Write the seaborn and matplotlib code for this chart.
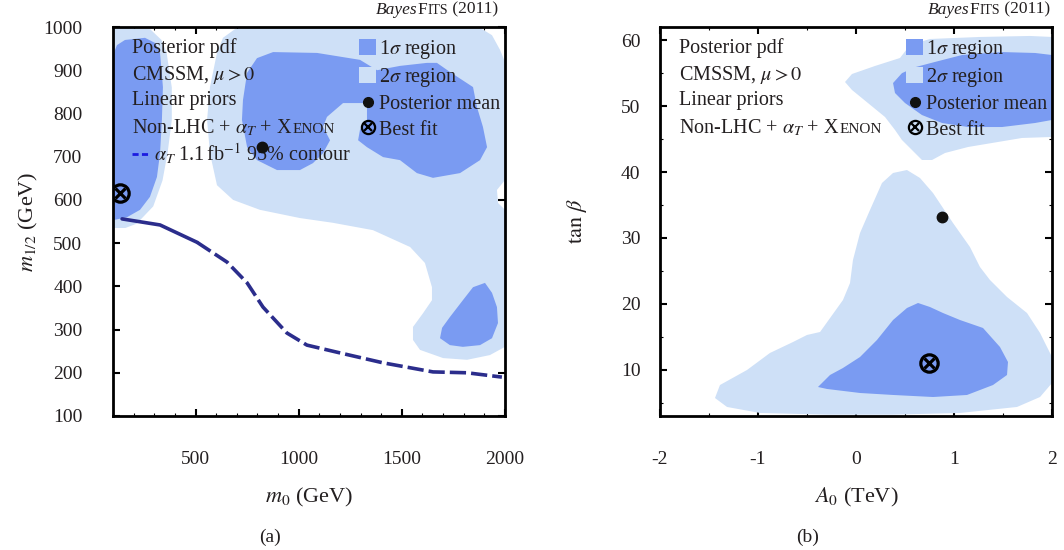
import matplotlib
matplotlib.use("Agg")
import matplotlib.pyplot as plt
import seaborn as sns
import numpy as np
import pandas as pd
from matplotlib.offsetbox import TextArea, HPacker, AnnotationBbox, DrawingArea
from matplotlib.lines import Line2D
from matplotlib.patches import Patch
from matplotlib.legend_handler import HandlerTuple
from matplotlib.ticker import MultipleLocator

# ---------------- data: panel (a)  (m0, m1/2) in GeV ----------------
a_2sig1_m0 = [100, 145, 280, 335, 360, 385, 385, 365, 340, 295, 215, 160, 100]
a_2sig1_m12 = [995, 998, 995, 970, 940, 860, 785, 710, 645, 585, 545, 535, 535]

a_2sig2_m0 = [604, 633, 691, 764, 1879, 1937, 1976, 2000, 2000, 1961, 1966, 2000, 2000,
              1927, 1816, 1700, 1588, 1554, 1554, 1603, 1646, 1646, 1612, 1540, 1360,
              1166, 1006, 812, 682, 604, 570, 556, 570]
a_2sig2_m12 = [940, 975, 995, 998, 998, 981, 947, 919, 646, 623, 593, 577, 260,
               241, 230, 234, 253, 276, 306, 338, 368, 398, 454, 491, 530,
               547, 558, 577, 600, 634, 708, 785, 861]

a_1sig1_m0 = [100, 119, 158, 255, 304, 328, 342, 337, 328, 313, 279, 231, 168, 100]
a_1sig1_m12 = [935, 958, 970, 975, 963, 940, 861, 785, 708, 653, 607, 577, 560, 553]

a_1sig2_m0 = [730, 750, 798, 876, 1089, 1297, 1380, 1491, 1622, 1670, 1733, 1845, 1864,
              1893, 1913, 1879, 1782, 1651, 1573, 1491, 1409, 1331, 1288, 1297, 1331,
              1331, 1215, 1137, 1118, 1152, 1118, 1069, 1006, 895, 798, 750, 725]
a_1sig2_m12 = [831, 894, 928, 942, 940, 924, 900, 910, 917, 917, 896, 861, 815,
               769, 722, 692, 662, 651, 662, 692, 699, 722, 738, 762, 785,
               824, 824, 792, 769, 738, 708, 685, 669, 669, 692, 722, 785]

a_1sig3_m0 = [1903, 1845, 1796, 1733, 1695, 1685, 1733, 1796, 1879, 1937, 1966, 1961, 1937]
a_1sig3_m12 = [408, 398, 368, 329, 304, 280, 264, 260, 264, 280, 315, 352, 385]

alphaT_m0 = [144, 328, 507, 653, 750, 827, 943, 1040, 1200, 1409, 1651, 1816, 1985]
alphaT_m12 = [556, 542, 502, 456, 408, 352, 292, 264, 246, 223, 202, 200, 190]

a_mean = (822, 722)
a_best = (134, 616)

# ---------------- data: panel (b)  (A0 in TeV, tan beta) ----------------
b_2sig1_A0 = [-0.112, -0.041, 0.194, 0.449, 0.551, 0.755, 1.265, 1.776, 2.0, 2.0, 1.694,
              1.388, 1.143, 0.908, 0.776, 0.673, 0.571, 0.469, 0.398, 0.296, 0.122, -0.041]
b_2sig1_tb = [53.66, 54.87, 56.09, 57.30, 59.27, 60.18, 60.49, 60.64, 60.49, 45.32, 45.17,
              44.41, 43.80, 42.89, 41.83, 41.83, 43.35, 44.86, 46.38, 48.35, 50.47, 52.45]

b_1sig1_A0 = [0.378, 0.469, 0.602, 0.806, 1.082, 1.490, 1.827, 2.0, 2.0, 1.827, 1.490,
              1.143, 0.878, 0.673, 0.5, 0.398]
b_1sig1_tb = [53.5, 55.0, 55.9, 56.7, 57.75, 58.2, 58.06, 57.75, 47.9, 47.44, 46.83,
              46.83, 47.44, 48.65, 50.47, 51.99]

b_2sig2_A0 = [0.520, 0.378, 0.265, 0.143, 0.041, -0.031, -0.061, -0.133, -0.367, -0.5,
              -0.643, -0.878, -1.112, -1.388, -1.439, -1.316, -0.980, -0.296, 0.378,
              1.061, 1.643, 1.878, 2.0, 2.0, 1.878, 1.745, 1.541, 1.367, 1.265, 1.163,
              0.990, 0.786, 0.653]
b_2sig2_tb = [40.31, 39.86, 38.34, 34.25, 30.76, 26.66, 23.17, 20.59, 15.74, 15.29,
              14.22, 12.56, 9.98, 7.70, 5.73, 4.37, 3.46, 3.2, 3.2,
              3.46, 4.37, 5.88, 8.0, 11.95, 15.59, 18.62, 21.05, 23.63, 25.60, 28.63,
              32.27, 36.82, 39.10]

b_1sig2_A0 = [0.633, 0.520, 0.378, 0.214, 0.041, -0.133, -0.265, -0.388, -0.296, 0.041,
              0.378, 0.786, 1.133, 1.398, 1.541, 1.551, 1.469, 1.296, 1.061, 0.888, 0.755]
b_1sig2_tb = [20.14, 19.38, 17.56, 14.53, 11.95, 10.28, 9.22, 7.40, 7.10, 6.49,
              6.19, 5.88, 6.19, 7.70, 9.22, 11.19, 13.47, 16.35, 17.56, 18.62, 19.53]

b_mean = (0.878, 33.2)
b_best = (0.745, 11.0)

info_lines = ["Posterior pdf", r"CMSSM, $\mu>0$", "Linear priors"]
legend_labels = [r"1$\sigma$ region", r"2$\sigma$ region", "Posterior mean", "Best fit"]

# ---------------- style ----------------
sns.set_style("ticks")
plt.rcParams['font.family'] = ['Liberation Serif', 'DejaVu Serif']
plt.rcParams['mathtext.fontset'] = 'stix'
plt.rcParams['axes.unicode_minus'] = False

DARK = '#7a9bf2'
LIGHT = '#cee0f7'
TXT = '#231f20'
LINEC = '#2b2d8c'
FS = 14.5

fig = plt.figure(figsize=(10.64, 5.5), dpi=100)
axL = fig.add_axes([113 / 1064, 1 - 416 / 550, 392 / 1064, 389 / 550])
axR = fig.add_axes([660 / 1064, 1 - 416 / 550, 392 / 1064, 389 / 550])

# panel (a) regions
axL.fill(a_2sig1_m0, a_2sig1_m12, color=LIGHT, lw=0, zorder=1)
axL.fill(a_2sig2_m0, a_2sig2_m12, color=LIGHT, lw=0, zorder=1)
axL.fill(a_1sig1_m0, a_1sig1_m12, color=DARK, lw=0, zorder=2)
axL.fill(a_1sig2_m0, a_1sig2_m12, color=DARK, lw=0, zorder=2)
axL.fill(a_1sig3_m0, a_1sig3_m12, color=DARK, lw=0, zorder=2)

line_df = pd.DataFrame({"m0": alphaT_m0, "m12": alphaT_m12})
sns.lineplot(data=line_df.iloc[:3], x="m0", y="m12", sort=False, estimator=None,
             ax=axL, color=LINEC, lw=2.6, zorder=4)
sns.lineplot(data=line_df.iloc[2:], x="m0", y="m12", sort=False, estimator=None,
             ax=axL, color=LINEC, lw=2.6, zorder=4, dashes=False,
             linestyle=(0, (4.5, 1.4)))

# panel (b) regions
axR.fill(b_2sig1_A0, b_2sig1_tb, color=LIGHT, lw=0, zorder=1)
axR.fill(b_2sig2_A0, b_2sig2_tb, color=LIGHT, lw=0, zorder=1)
axR.fill(b_1sig1_A0, b_1sig1_tb, color=DARK, lw=0, zorder=2)
axR.fill(b_1sig2_A0, b_1sig2_tb, color=DARK, lw=0, zorder=2)


def markers(ax, mean, best):
    ax.plot([mean[0]], [mean[1]], 'o', color='#111111', ms=7.5, zorder=6)
    ax.plot([best[0]], [best[1]], 'o', mfc='none', mec='black', ms=12.5, mew=2.3, zorder=6)
    ax.plot([best[0]], [best[1]], 'x', color='black', ms=7.5, mew=2.3, zorder=6)


markers(axL, a_mean, a_best)
markers(axR, b_mean, b_best)

axL.set_xlim(100, 2000)
axL.set_ylim(100, 1000)
axR.set_xlim(-2, 2)
axR.set_ylim(3, 62)

axL.xaxis.set_major_locator(MultipleLocator(500))
axL.xaxis.set_minor_locator(MultipleLocator(100))
axL.yaxis.set_major_locator(MultipleLocator(100))
axR.xaxis.set_major_locator(MultipleLocator(1))
axR.xaxis.set_minor_locator(MultipleLocator(0.5))
axR.yaxis.set_major_locator(MultipleLocator(10))
axR.yaxis.set_minor_locator(MultipleLocator(5))

for ax, ypad in ((axL, 22), (axR, 14)):
    for sp in ax.spines.values():
        sp.set_visible(True)
        sp.set_linewidth(2.0)
        sp.set_color('black')
    ax.tick_params(which='both', direction='in', top=True, right=True, colors='black',
                   labelcolor=TXT, zorder=10)
    ax.tick_params(which='major', length=5, width=1.5, labelsize=14)
    ax.tick_params(which='minor', length=2.5, width=0.8)
    ax.tick_params(axis='x', which='major', pad=25)
    ax.tick_params(axis='y', which='major', pad=ypad)
    ax.set_facecolor('white')

axL.set_xlabel(r"$m_0$ (GeV)", fontsize=16, color=TXT)
axL.set_ylabel(r"$m_{1/2}$ (GeV)", fontsize=16, color=TXT)
axR.set_xlabel(r"$A_0$ (TeV)", fontsize=16, color=TXT)
axR.set_ylabel(r"$\tan\,\beta$", fontsize=16, color=TXT)
axL.xaxis.set_label_coords(0.5, -0.18)
axR.xaxis.set_label_coords(0.5, -0.18)
axL.yaxis.set_label_coords(-0.186, 0.5)
axR.yaxis.set_label_coords(-0.18, 0.5)


def tarea(s, size=FS, **kw):
    return TextArea(s, textprops=dict(fontsize=size, color=TXT, **kw))


def place(ax, box, xy, align=(0, 0.5), coords='axes fraction'):
    ab = AnnotationBbox(box, xy, xycoords=coords, box_alignment=align,
                        frameon=False, pad=0, annotation_clip=False, zorder=5)
    ax.add_artist(ab)


row_y = [0.946, 0.877, 0.810, 0.740, 0.674]
for ax, with_line in ((axL, True), (axR, False)):
    for txt, yy in zip(info_lines, row_y):
        place(ax, HPacker(children=[tarea(txt)], pad=0, sep=0), (0.0485, yy))
    row4 = HPacker(children=[tarea(r"Non-LHC + $\alpha_T$ + X"), tarea("ENON", size=11)],
                   align="baseline", pad=0, sep=0)
    place(ax, row4, (0.0485, row_y[3]))
    if with_line:
        da = DrawingArea(16, 10, 0, 0)
        da.add_artist(Line2D([0, 11.2], [5, 5], color='#1c1ce0', lw=2.0,
                             linestyle=(0, (2.2, 1.2))))
        row5 = HPacker(children=[da, tarea(r"$\alpha_T$ 1.1$\,$fb$^{-1}$ 95% contour")],
                       align="center", pad=0, sep=0)
        place(ax, row5, (0.0485, row_y[4]))

    handles = [Patch(facecolor=DARK, edgecolor='none'),
               Patch(facecolor=LIGHT, edgecolor='none'),
               Line2D([], [], marker='o', ls='none', color='#111111', ms=7),
               (Line2D([], [], marker='o', ls='none', mfc='none', mec='black', ms=9.5, mew=1.6),
                Line2D([], [], marker='x', ls='none', color='black', ms=5.5, mew=1.6))]
    leg = ax.legend(handles, legend_labels, handler_map={tuple: HandlerTuple(ndivide=1)},
                    loc='upper left', bbox_to_anchor=(0.628, 0.972), frameon=False,
                    fontsize=FS, handlelength=0.85, handleheight=0.85, handletextpad=0.12,
                    labelspacing=0.26, borderpad=0, borderaxespad=0, labelcolor=TXT)
    leg.set_zorder(5)

# BayesFits labels
for ax, xr in ((axL, 0.982), (axR, 0.995)):
    bf = HPacker(children=[tarea("Bayes", size=12.5, style='italic'), tarea("F", size=12.5),
                           tarea("ITS", size=10), tarea(" (2011)", size=12.5)],
                 align="baseline", pad=0, sep=0)
    place(ax, bf, (xr, 1.044), align=(1, 0.5))

fig.text(270 / 1064, 1 - 537 / 550, "(a)", ha='center', va='center', fontsize=14, color=TXT)
fig.text(808 / 1064, 1 - 537 / 550, "(b)", ha='center', va='center', fontsize=14, color=TXT)

fig.savefig("out.png", dpi=100)
